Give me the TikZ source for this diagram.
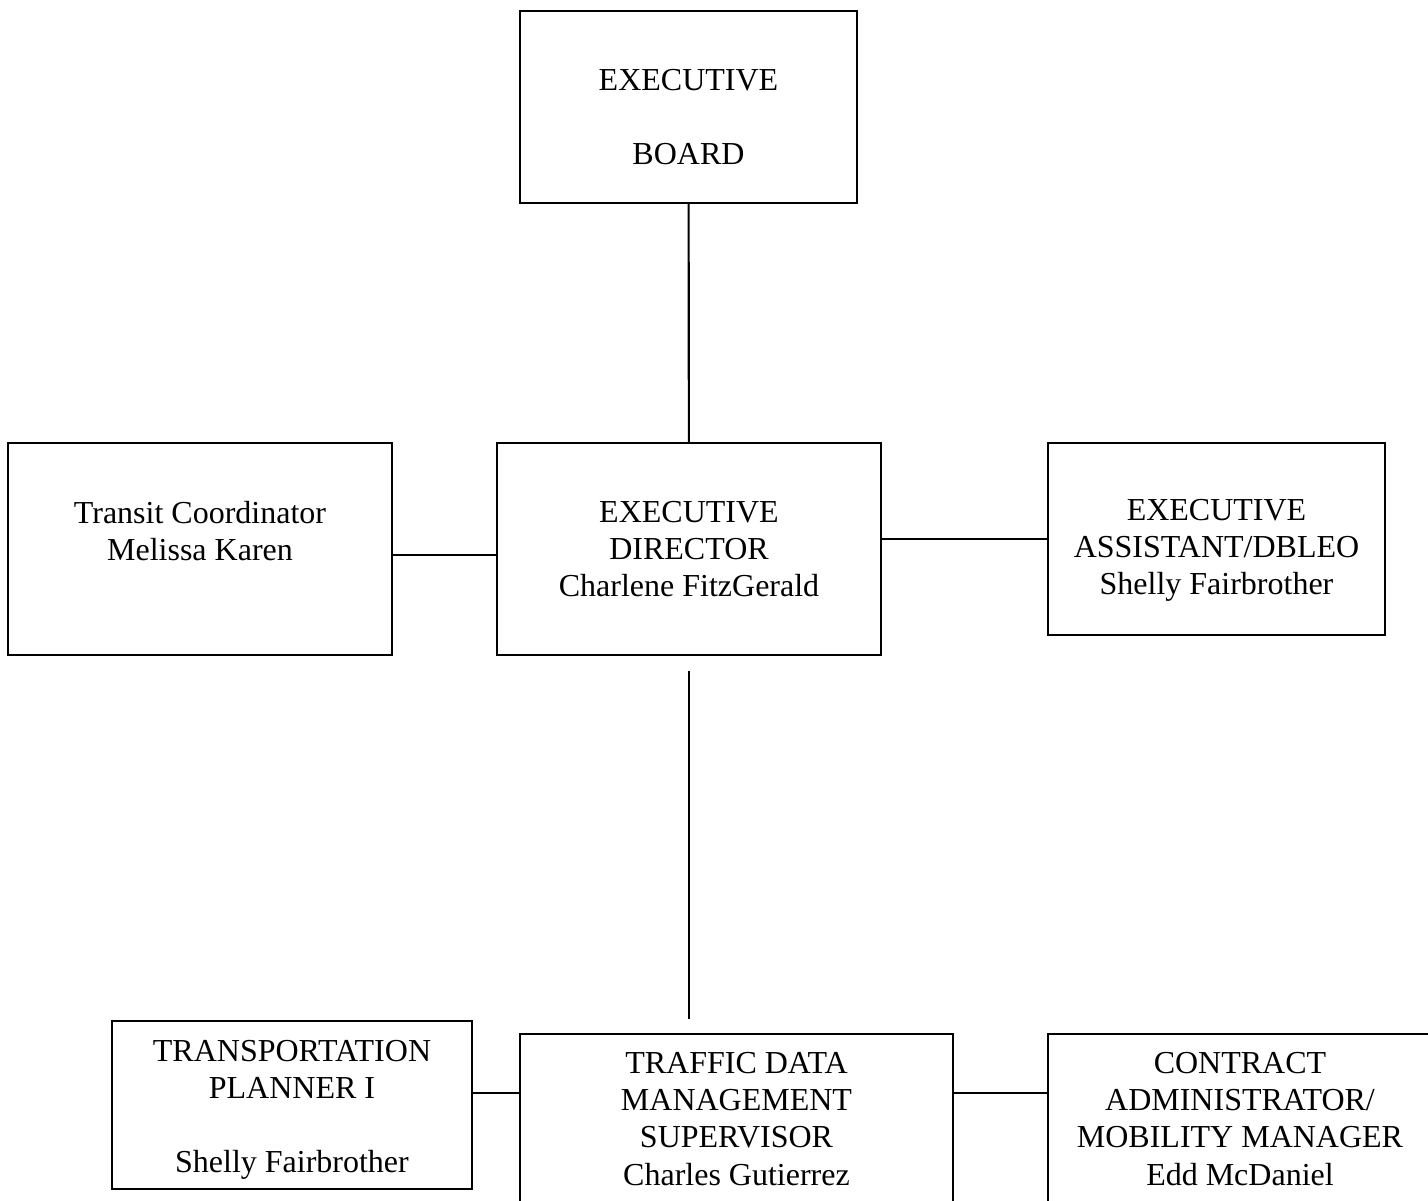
\documentclass[tikz,border=0pt,12pt]{standalone}
\usepackage{fontspec}
\setmainfont{Liberation Serif}
\usepackage{tikz}
\def\px{0.375pt}
\tikzset{orgbox/.style={rectangle, draw, line width=0.8pt, align=center, inner sep=0pt,
  font=\fontsize{12}{13.9}\selectfont},
  orgtext/.style={align=center, inner sep=0pt, font=\fontsize{12}{13.9}\selectfont}}

\begin{document}
\begin{tikzpicture}[x=0.375pt, y=-0.375pt, line width=0.8pt]

\clip (0,0) rectangle (1428,1201);

\node (eb) at (688.5,107) [orgbox, minimum width=337*\px, minimum height=192*\px]{};
\node (ebt) at (688.5,117) [orgtext]{EXECUTIVE\\[\baselineskip]BOARD};

\node (tc) at (200,549) [orgbox, minimum width=384*\px, minimum height=212*\px]{Transit Coordinator\\Melissa Karen\\\mbox{}};
\node (ed) at (689,549) [orgbox, minimum width=384*\px, minimum height=212*\px]{EXECUTIVE\\DIRECTOR\\Charlene FitzGerald};
\node (ea) at (1216.5,539) [orgbox, minimum width=337*\px, minimum height=192*\px]{};
\node (eat) at (1216.5,550) [orgtext]{EXECUTIVE\\ASSISTANT/DBLEO\\Shelly Fairbrother};

\node (tp) at (292,1105) [orgbox, minimum width=360*\px, minimum height=168*\px]{};
\node (tpt) at (292,1110) [orgtext]{TRANSPORTATION\\PLANNER I\\\mbox{}\\Shelly Fairbrother};
\node (td) at (736.5,1119) [orgbox, minimum width=433*\px, minimum height=170*\px]{TRAFFIC DATA\\MANAGEMENT\\SUPERVISOR\\Charles Gutierrez};
\node (ca) at (1240,1119) [orgbox, minimum width=384*\px, minimum height=170*\px]{CONTRACT\\ADMINISTRATOR/\\MOBILITY MANAGER\\Edd McDaniel};

\draw (eb) to (ed);
\draw ([yshift=-6*\px]tc.east) to ([yshift=-6*\px]ed.west);
\draw (ea.west -| ed.east) to (ea.west);
\draw [shorten <=15*\px, shorten >=14*\px] (ed.south) to (ed.south |- td.north);

\draw ([yshift=12*\px]tp.east) to ([yshift=12*\px]tp.east -| td.west);
\draw ([yshift=26*\px]td.east) to ([yshift=26*\px]ca.west);

\end{tikzpicture}
\end{document}
